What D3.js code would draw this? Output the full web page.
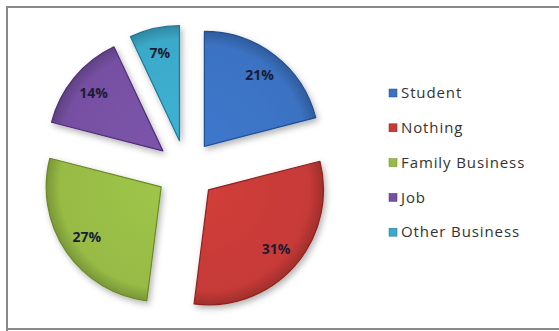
<!DOCTYPE html>
<html><head><meta charset="utf-8">
<script src="https://cdn.jsdelivr.net/npm/d3@7"></script>
<style>body{margin:0;background:#fff}svg{display:block}</style>
</head><body>
<svg id="c" width="559" height="331"></svg>
<script>
const categories = ["Student","Nothing","Family Business","Job","Other Business"];
const values = [21,31,27,14,7];
const colors = ["#3b72c2","#c63a37","#97bb45","#7650a2","#3ba9c9"];
const dark = ["#1f4f93","#8e2320","#6a8a26","#4f2f78","#1f7894"];

const svg = d3.select("#c");
const defs = svg.append("defs");
const f = defs.append("filter").attr("id","sh").attr("x","-20%").attr("y","-20%").attr("width","140%").attr("height","140%");
f.append("feDropShadow").attr("dx",2).attr("dy",3).attr("stdDeviation",3).attr("flood-color","#000").attr("flood-opacity",0.3);
colors.forEach((c,i)=>{
  const g = defs.append("radialGradient").attr("id","g"+i).attr("gradientUnits","userSpaceOnUse")
    .attr("cx",0).attr("cy",0).attr("r",115);
  g.append("stop").attr("offset","0%").attr("stop-color",d3.color(c).brighter(0.15));
  g.append("stop").attr("offset","88%").attr("stop-color",c);
  g.append("stop").attr("offset","100%").attr("stop-color",d3.color(c).darker(0.6));
});

// frame
svg.append("path").attr("d","M7,331 V7 H559").attr("fill","none").attr("stroke","#8a8a8a").attr("stroke-width",2);
svg.append("line").attr("x1",7).attr("x2",559).attr("y1",329).attr("y2",329).attr("stroke","#8a8a8a").attr("stroke-width",2);

const cx=186, cy=170, R=115, ex=30;
const pie = d3.pie().sort(null).value(d=>d)(values);
const arc = d3.arc().innerRadius(0).outerRadius(R);
const g = svg.append("g").attr("transform",`translate(${cx},${cy})`);
pie.forEach((p,i)=>{
  const m=(p.startAngle+p.endAngle)/2;
  const dx=ex*Math.sin(m), dy=-ex*Math.cos(m);
  const s=g.append("g").attr("transform",`translate(${dx},${dy})`);
  s.append("path").attr("d",arc(p)).attr("fill",`url(#g${i})`).attr("stroke",dark[i]).attr("stroke-width",1.2)
    .attr("stroke-linejoin","round").attr("filter","url(#sh)");
  const lr=90;
  s.append("text").attr("x",lr*Math.sin(m)).attr("y",-lr*Math.cos(m)).attr("dy","0.35em")
    .attr("text-anchor","middle").attr("font-family","'Open Sans', sans-serif").attr("font-weight","bold")
    .attr("font-size",14).attr("fill","#1c1c34").text(values[i]+"%");
});

const lg = svg.append("g").attr("transform","translate(389,93)");
categories.forEach((c,i)=>{
  const y=i*34.8;
  lg.append("rect").attr("x",0).attr("y",y-4).attr("width",8).attr("height",8).attr("fill",colors[i]).attr("stroke",dark[i]).attr("stroke-width",0.5);
  lg.append("text").attr("x",12).attr("y",y).attr("dy","0.35em").attr("font-family","'Open Sans', sans-serif")
    .attr("font-size",15).attr("letter-spacing",0.9).attr("fill","#333").text(c);
});
</script>
</body></html>
